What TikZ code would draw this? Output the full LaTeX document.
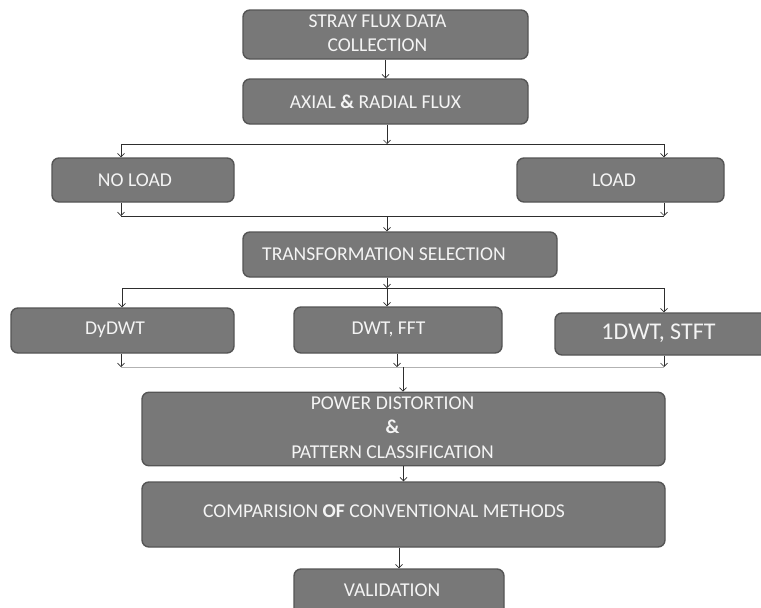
\documentclass[tikz,border=0pt]{standalone}
\usepackage{fontspec}
\setmainfont{Carlito}
\usepackage{tikz}
\usetikzlibrary{
  arrows.meta,
  positioning,
  calc,
  }
\definecolor{boxfill}{HTML}{787878}
\definecolor{boxedge}{HTML}{555555}
\definecolor{boxtext}{HTML}{F4F4F4}
\definecolor{wire}{HTML}{2E2E2E}
% text nudged inside a box: #1 = twice the shift to the left, #2 = lift
\newcommand{\nudged}[3]{\hbox{\raisebox{#2}{#3}\kern#1}}

\begin{document}
\begin{tikzpicture}[x=1pt, y=-1pt,
                    stage/.style={rectangle, rounded corners=7pt, draw=boxedge, line width=1.4pt,
                                  fill=boxfill, text=boxtext, align=center, inner sep=0pt,
                                  font=\fontsize{19.6}{24.5}\selectfont},
                    flow/.style={draw=wire, line width=0.7pt, -{Straight Barb[length=3.5pt,width=7pt]}},
                    bus/.style={draw=wire, line width=0.7pt}]
                    \useasboundingbox (0,0) rectangle (761,608);
                    % boxes
                    \node[stage, minimum width=285pt, minimum height=45pt] (stray) at (385.5,34.5)
                        {\nudged{16pt}{0pt}{\begin{tabular}{@{}c@{}}STRAY FLUX DATA\\COLLECTION\end{tabular}}};
                    \node[stage, minimum width=285pt, minimum height=45pt] (axial) at (385.5,101.5) {\nudged{20pt}{0pt}{AXIAL \textbf{\&} RADIAL FLUX}};
                    \node[stage, minimum width=182pt, minimum height=44pt] (noload) at (143,180) {\nudged{16pt}{0pt}{NO LOAD}};
                    \node[stage, minimum width=207pt, minimum height=44pt] (load) at (620.5,180) {\nudged{13pt}{0pt}{LOAD}};
                    \node[stage, minimum width=314pt, minimum height=45pt] (trans) at (400,254.5) {\nudged{32pt}{1pt}{TRANSFORMATION SELECTION}};
                    \node[stage, minimum width=223pt, minimum height=45pt] (dydwt) at (122.5,330.5) {\nudged{15pt}{4pt}{DyDWT}};
                    \node[stage, minimum width=208pt, minimum height=46pt] (dwtfft) at (398,330) {\nudged{19pt}{4pt}{DWT, FFT}};
                    \node[stage, minimum width=213pt, minimum height=42pt,
                          font=\fontsize{24}{28}\selectfont] (onedwt) at (661.5,334) {\nudged{6pt}{4pt}{1DWT, STFT}};
                    \node[stage, minimum width=523pt, minimum height=70pt] (power) at (403.5,429)
                        {\nudged{22pt}{4pt}{\begin{tabular}{@{}c@{}}POWER DISTORTION\\\textbf{\&}\\PATTERN CLASSIFICATION\end{tabular}}};
                    \node[stage, minimum width=523pt, minimum height=65pt] (comp) at (403.5,514.5) {\nudged{39pt}{6.5pt}{COMPARISION \textbf{OF} CONVENTIONAL METHODS}};
                    \node[stage, minimum width=210pt, minimum height=51pt] (valid) at (399,594.5) {\nudged{14pt}{8.5pt}{VALIDATION}};
                    % split and join points
                    \coordinate (loadsplit) at (387,144);
                    \coordinate (loadsplitL) at (121,144);
                    \coordinate (loadsplitR) at (664,144);
                    \coordinate (loadjoin) at (387,216);
                    \coordinate (loadjoinL) at (121,216);
                    \coordinate (loadjoinR) at (664,216);
                    \coordinate (tfsplit) at (387,288);
                    \coordinate (tfsplitL) at (122,288);
                    \coordinate (tfsplitR) at (664,288);
                    \coordinate (tfjoin) at (403,367);
                    \coordinate (tfjoinL) at (121,367);
                    \coordinate (tfjoinM) at (397,367);
                    \coordinate (tfjoinR) at (664,367);
                    % connectors
                    \draw[flow] (stray) -- (axial);
                    \draw[flow] (axial.south -| loadsplit) -- (loadsplit);
                    \draw[bus] (loadsplitL) -- (loadsplitR);
                    \draw[flow] (loadsplitL) -- (loadsplitL |- noload.north);
                    \draw[flow] (loadsplitR) -- (loadsplitR |- load.north);
                    \draw[flow] (loadjoinL |- noload.south) -- (loadjoinL);
                    \draw[flow] (loadjoinR |- load.south) -- (loadjoinR);
                    \draw[bus] (loadjoinL) -- (loadjoinR);
                    \draw[flow] (loadjoin) -- (loadjoin |- trans.north);
                    \draw[flow] (trans.south -| tfsplit) -- (tfsplit);
                    \draw[bus] (tfsplitL) -- (tfsplitR);
                    \draw[flow] (tfsplitL) -- (tfsplitL |- dydwt.north);
                    \draw[flow] (tfsplit) -- (tfsplit |- dwtfft.north);
                    \draw[flow] (tfsplitR) -- (tfsplitR |- onedwt.north);
                    \draw[flow] (tfjoinL |- dydwt.south) -- (tfjoinL);
                    \draw[flow] (tfjoinM |- dwtfft.south) -- (tfjoinM);
                    \draw[flow] (tfjoinR |- onedwt.south) -- (tfjoinR);
                    \draw[bus, draw=gray!60] (tfjoinL) -- (tfjoinR);
                    \draw[flow] (tfjoin) -- (tfjoin |- power.north);
                    \draw[flow] (power) -- (comp);
                    \draw[flow] (comp.south -| valid) -- (valid);
\end{tikzpicture}
\end{document}
